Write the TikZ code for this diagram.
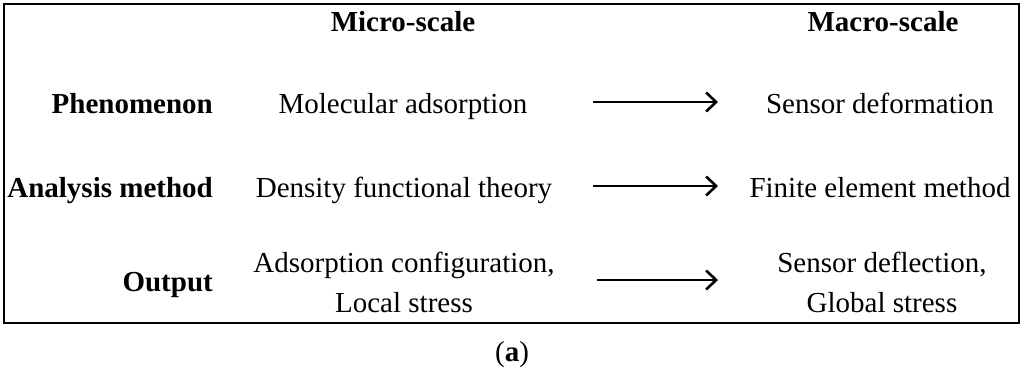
\documentclass[tikz,border=0pt]{standalone}
\usepackage{fontspec}
\setmainfont{Liberation Serif}
\usetikzlibrary{arrows.meta}
\begin{document}
\begin{tikzpicture}[x=1pt,y=1pt,
  txt/.style={font=\fontsize{29}{40}\selectfont, inner sep=0pt, align=center},
  one/.style={txt, anchor=base},
  head/.style={one, font=\fontsize{29}{40}\selectfont\bfseries},
  rowlab/.style={txt, font=\fontsize{29}{40}\selectfont\bfseries, anchor=base east},
  conn/.style={line width=2.4pt, -{Straight Barb[length=10pt,width=19pt,line width=2.6pt]}}]
\useasboundingbox (0,0) rectangle (1024,-370);
\draw[line width=2pt] (4,-4) rectangle (1019,-323);
\node[head] (micro) at (403,-31.5) {Micro-scale};
\node[head] (macro) at (883,-31.5) {Macro-scale};
\node[rowlab] (phen) at (213,-113.5) {Phenomenon};
\node[rowlab] (anal) at (213,-197.5) {Analysis method};
\node[rowlab] (outp) at (213,-291.5) {Output};
\node[one] (mol) at (403,-113.5) {Molecular adsorption};
\node[one] (dft) at (404,-197.5) {Density functional theory};
\node[txt] (ads) at (404,-282) {Adsorption configuration,\\Local stress};
\node[one] (sdef) at (880,-113.5) {Sensor deformation};
\node[one] (fem) at (880,-197.5) {Finite element method};
\node[txt] (sdfl) at (882,-282) {Sensor deflection,\\Global stress};
\coordinate (a1s) at (593,-102); \coordinate (a1e) at (718,-102);
\coordinate (a2s) at (593,-186); \coordinate (a2e) at (718,-186);
\coordinate (a3s) at (597,-280); \coordinate (a3e) at (718,-280);
\draw[conn] (a1s) -- (a1e);
\draw[conn] (a2s) -- (a2e);
\draw[conn] (a3s) -- (a3e);
\node[one] (cap) at (512,-361) {(\textbf{a})};
\end{tikzpicture}
\end{document}
